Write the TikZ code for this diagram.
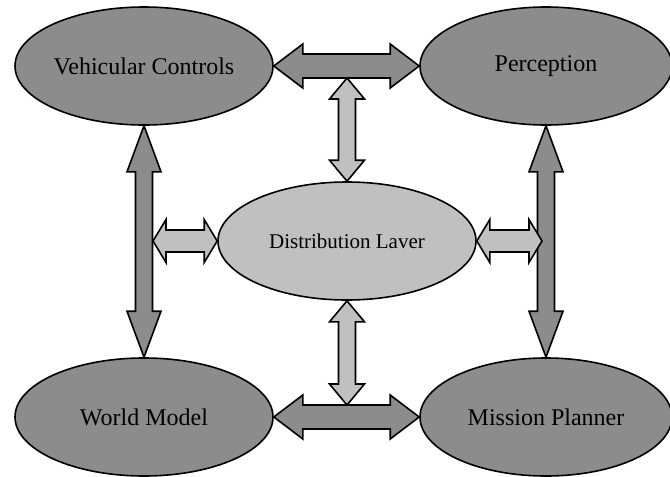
\documentclass[tikz,border=0pt]{standalone}
\usepackage{fontspec}
\setmainfont{Liberation Serif}
\usetikzlibrary{shapes.geometric,calc}

\definecolor{darkfill}{RGB}{140,140,140}
\definecolor{lightfill}{RGB}{192,192,192}

% two-headed block arrow between #2 and #3
% #4 = shaft half width, #5 = head half width, #6 = head length
\newcommand{\blockarrow}[6][]{%
  \coordinate (ba1) at ($(#2)!#6!(#3)$);
  \coordinate (ba2) at ($(#3)!#6!(#2)$);
  \filldraw[#1] (#2) -- ($(ba1)!#5!90:(#3)$) -- ($(ba1)!#4!90:(#3)$)
    -- ($(ba2)!#4!-90:(#2)$) -- ($(ba2)!#5!-90:(#2)$) -- (#3)
    -- ($(ba2)!#5!90:(#2)$) -- ($(ba2)!#4!90:(#2)$)
    -- ($(ba1)!#4!-90:(#3)$) -- ($(ba1)!#5!-90:(#3)$) -- cycle;}

\begin{document}
\begin{tikzpicture}[x=0.5pt, y=-0.5pt,
  mod/.style={ellipse, draw=black, line width=0.8pt, fill=darkfill, inner sep=0pt,
    minimum width=129pt, minimum height=59pt, font=\fontsize{12}{14}\selectfont},
  hub/.style={mod, fill=lightfill, font=\fontsize{10.5}{12}\selectfont},
  bigarr/.style={draw=black, line width=0.8pt, fill=darkfill, line join=miter},
  smallarr/.style={draw=black, line width=0.8pt, fill=lightfill, line join=miter}]
\useasboundingbox (0,0) rectangle (670,477);
\node[mod] (vc) at (144,66) {Vehicular Controls};
\node[mod, minimum width=126pt] (per) at (546,66) {Perception};
\node[mod] (wm) at (144,417) {World Model};
\node[mod, minimum width=126pt] (mp) at (546,417) {Mission Planner};
\node[hub] (dl) at (347,241) {Distribution Laver};
% ends of the short arrows on the big shafts
\coordinate (topshaft) at (347,78);
\coordinate (botshaft) at (347,405);
\coordinate (leftshaft) at (153,241);
\coordinate (rightshaft) at (542,241);
\blockarrow[bigarr]{vc.east}{per.west}{6pt}{11pt}{14.5pt}
\blockarrow[bigarr]{wm.east}{mp.west}{6pt}{11pt}{14.5pt}
\blockarrow[bigarr]{vc.south}{wm.north}{4.25pt}{8.5pt}{23pt}
\blockarrow[bigarr]{per.south}{mp.north}{4.25pt}{8.5pt}{23pt}
\blockarrow[smallarr]{topshaft}{dl.north}{4.25pt}{8.75pt}{10.5pt}
\blockarrow[smallarr]{dl.south}{botshaft}{4.25pt}{8.75pt}{10.5pt}
\blockarrow[smallarr]{leftshaft}{dl.west}{5.5pt}{10.75pt}{6.5pt}
\blockarrow[smallarr]{dl.east}{rightshaft}{5.5pt}{10.75pt}{6.5pt}
\end{tikzpicture}
\end{document}
